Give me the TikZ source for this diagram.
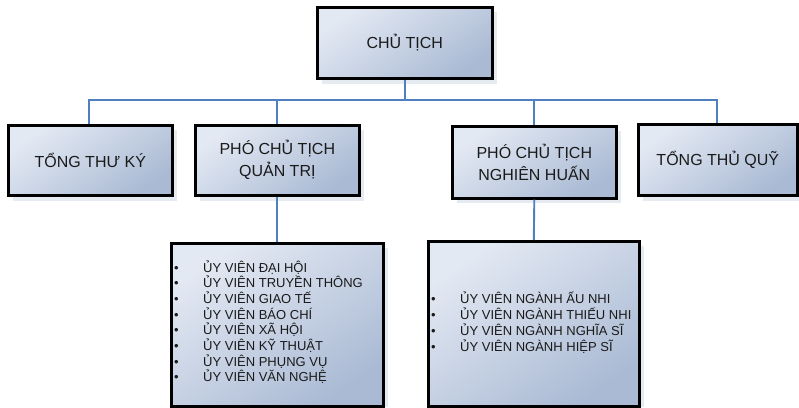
\documentclass[tikz,border=0pt]{standalone}
\usepackage{fontspec}
\setmainfont{Liberation Sans}
\begin{document}
\begin{tikzpicture}[x=1pt,y=-1pt,
  box/.style={draw=black,line width=2.6pt,
    top color=boxtop,bottom color=boxbot,shading angle=35,
    inner sep=0pt,anchor=north west},
  boxtext/.style={font=\fontsize{16}{22}\selectfont,align=center,text=textc},
  shad/.style={fill=shadowc,draw=none},
  conn/.style={draw=linec,line width=1.9pt},
  listtext/.style={font=\fontsize{13}{15.7}\selectfont,anchor=base west,inner sep=0pt,text=textc}]
\definecolor{boxtop}{HTML}{E3E9F3}
\definecolor{boxbot}{HTML}{AABAD4}
\definecolor{shadowc}{HTML}{E6EAF1}
\definecolor{linec}{HTML}{4F7FBF}
\definecolor{textc}{HTML}{1A1A1A}
\useasboundingbox (0,0) rectangle (799,407);
% shadows
\fill[shad] (322,12) rectangle (497,84);
\fill[shad] (13,130) rectangle (177,201);
\fill[shad] (200,130) rectangle (364,201);
\fill[shad] (457,131) rectangle (621,203);
\fill[shad] (643,129) rectangle (799,201);
\fill[shad] (176,248) rectangle (388,407);
\fill[shad] (433,246) rectangle (644,407);
% boxes
\node[box,minimum width=175pt,minimum height=71pt] (ct) at (316,6) {};
\node[boxtext] at (ct.center) (ctt) {CHỦ TỊCH};
\node[box,minimum width=164pt,minimum height=70pt] (tk) at (7,124) {};
\node[boxtext] at (tk.center) (tkt) {TỔNG THƯ KÝ};
\node[box,minimum width=164pt,minimum height=70pt] (qt) at (194,124) {};
\node[boxtext] at (qt.center) (qtt) {PHÓ CHỦ TỊCH\\QUẢN TRỊ};
\node[box,minimum width=164pt,minimum height=72pt] (nh) at (451,125) {};
\node[boxtext] at (nh.center) (nht) {PHÓ CHỦ TỊCH\\NGHIÊN HUẤN};
\node[box,minimum width=159pt,minimum height=71pt] (tq) at (637,123) {};
\node[boxtext] at (tq.center) (tqt) {TỔNG THỦ QUỸ};
\node[box,minimum width=212pt,minimum height=163pt] (l1) at (170,242) {};
\node[box,minimum width=211pt,minimum height=165pt] (l2) at (427,240) {};
% connectors
\coordinate (hl) at (89,100);
\coordinate (hr) at (717,100);
\draw[conn] (tk.north -| hl) -- (hl) -- (hr) -- (tq.north -| hr);
\draw[conn] (ct.south) -- (ct.south |- hl);
\draw[conn] (qt.north) -- (qt.north |- hl);
\draw[conn] (nh.north) -- (nh.north |- hl);
\draw[conn] (qt.south) -- (l1.north);
\draw[conn] (nh.south) -- (l2.north);
% lists
\foreach \t [count=\i] in {ỦY VIÊN ĐẠI HỘI,ỦY VIÊN TRUYỀN THÔNG,ỦY VIÊN GIAO TẾ,ỦY VIÊN BÁO CHÍ,ỦY VIÊN XÃ HỘI,ỦY VIÊN KỸ THUẬT,ỦY VIÊN PHỤNG VỤ,ỦY VIÊN VĂN NGHỆ}{
  \node[listtext] (ab\i) at (174,{272+15.7*(\i-1)}) {•};
  \node[listtext] (at\i) at (203,{272+15.7*(\i-1)}) {\t};
}
\foreach \t [count=\i] in {ỦY VIÊN NGÀNH ẤU NHI,ỦY VIÊN NGÀNH THIẾU NHI,ỦY VIÊN NGÀNH NGHĨA SĨ,ỦY VIÊN NGÀNH HIỆP SĨ}{
  \node[listtext] (bb\i) at (431,{303+16*(\i-1)}) {•};
  \node[listtext] (bt\i) at (460,{303+16*(\i-1)}) {\t};
}
\end{tikzpicture}
\end{document}
